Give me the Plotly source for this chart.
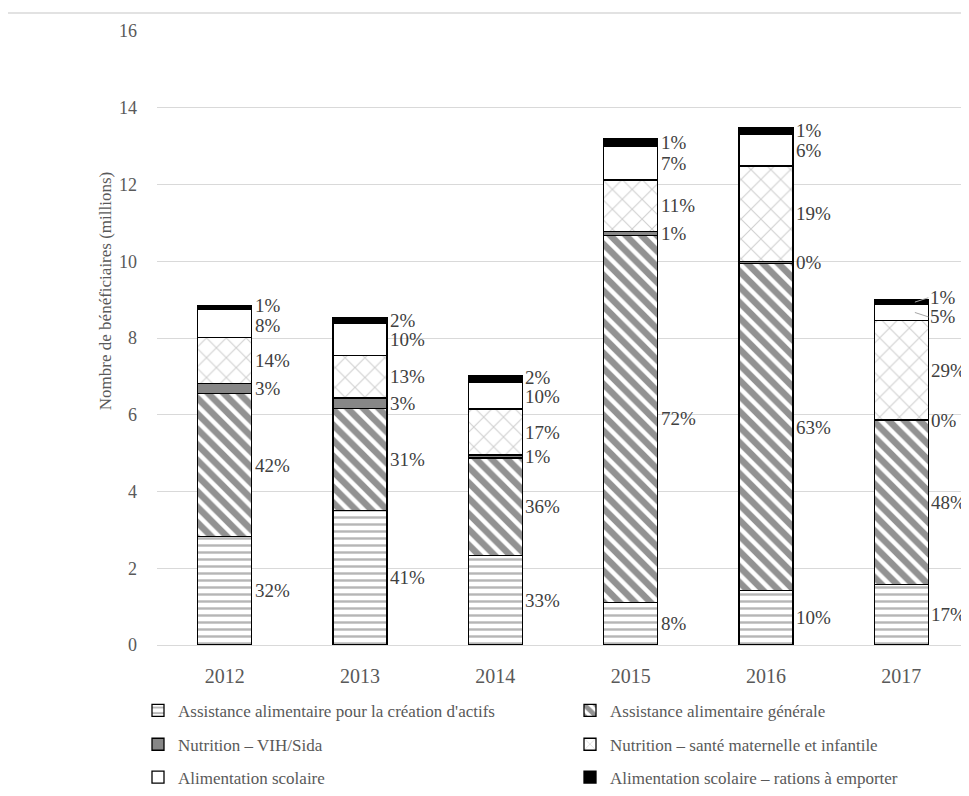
import plotly.graph_objects as go

years = ["2012", "2013", "2014", "2015", "2016", "2017"]

series_names = [
    "Assistance alimentaire pour la création d'actifs",
    "Assistance alimentaire générale",
    "Nutrition – VIH/Sida",
    "Nutrition – santé maternelle et infantile",
    "Alimentation scolaire",
    "Alimentation scolaire – rations à emporter",
]

actifs = [2.83, 3.50, 2.33, 1.11, 1.42, 1.58]
generale = [3.72, 2.66, 2.54, 9.56, 8.52, 4.27]
vih = [0.27, 0.28, 0.08, 0.10, 0.06, 0.02]
maternelle = [1.20, 1.10, 1.20, 1.35, 2.48, 2.59]
scolaire = [0.72, 0.84, 0.70, 0.88, 0.83, 0.41]
rations = [0.10, 0.16, 0.16, 0.20, 0.18, 0.13]

pct_actifs = ["32%", "41%", "33%", "8%", "10%", "17%"]
pct_generale = ["42%", "31%", "36%", "72%", "63%", "48%"]
pct_vih = ["3%", "3%", "1%", "1%", "0%", "0%"]
pct_maternelle = ["14%", "13%", "17%", "11%", "19%", "29%"]
pct_scolaire = ["8%", "10%", "10%", "7%", "6%", "5%"]
pct_rations = ["1%", "2%", "2%", "1%", "1%", "1%"]

values = [actifs, generale, vih, maternelle, scolaire, rations]
pcts = [pct_actifs, pct_generale, pct_vih, pct_maternelle, pct_scolaire, pct_rations]

FONT = "Liberation Serif"
BAR_W = 0.4
x = list(range(len(years)))

# page body has an 8px margin: figure coordinates = screen coordinates - 8
OFF = 8
W, H = 969 - OFF, 796 - OFF
PLOT_L, PLOT_T, PLOT_B = 157, 31, 647          # screen coordinates
ml, mr, mt = PLOT_L - OFF, 0, PLOT_T - OFF
mb = H - (PLOT_B - OFF)
pw = W - ml - mr
ph = H - mt - mb


def px(s):
    return (s - PLOT_L) / pw


def py(s):
    return (PLOT_B - s) / ph


styles = [
    dict(color="white", pattern=dict(shape="-", fgcolor="#6e6e6e", bgcolor="white", size=7, solidity=0.35)),
    dict(color="white", pattern=dict(shape="\\", fgcolor="#262626", bgcolor="white", size=11, solidity=0.6)),
    dict(color="#878787"),
    dict(color="white", pattern=dict(shape="x", fgcolor="#a0a0a0", bgcolor="white", size=14, solidity=0.15)),
    dict(color="white"),
    dict(color="black"),
]
legend_ids = ["legend", "legend2", "legend3", "legend4", "legend5", "legend6"]
# legend grid: (text start x, row centre y) in screen pixels
legend_cols = [178, 610]
legend_rows = [713, 747, 780]

fig = go.Figure()
for name, vals, st, lg in zip(series_names, values, styles, legend_ids):
    fig.add_trace(go.Bar(
        x=x, y=vals, name=name, width=BAR_W, showlegend=True,
        marker=dict(line=dict(color="black", width=1.3), **st),
        legend=lg,
    ))

# label positions: segment midpoints, pushed apart to avoid overlap
GAP = 0.5
annotations = []
for i in range(len(years)):
    base = 0.0
    mids = []
    for vals in values:
        mids.append(base + vals[i] / 2)
        base += vals[i]
    ys = mids[:]
    order = sorted(range(len(ys)), key=lambda k: ys[k])
    for _ in range(100):
        for a, b in zip(order[:-1], order[1:]):
            d = ys[b] - ys[a]
            if d < GAP:
                s = (GAP - d) / 2
                ys[a] -= s
                ys[b] += s
    for k in range(len(values)):
        moved = abs(ys[k] - mids[k]) > 0.08
        if moved:
            annotations.append(dict(
                x=i + BAR_W / 4, y=mids[k], xref="x", yref="y",
                ax=i + BAR_W / 2, ay=ys[k], axref="x", ayref="y",
                text=pcts[k][i], showarrow=True, arrowhead=0, arrowwidth=1,
                arrowcolor="#a6a6a6", standoff=0, xanchor="left",
                font=dict(family=FONT, size=19, color="#404040"),
            ))
        else:
            annotations.append(dict(
                x=i + BAR_W / 2, y=ys[k], xref="x", yref="y",
                text=pcts[k][i], showarrow=False, xanchor="left", xshift=1,
                font=dict(family=FONT, size=19, color="#404040"),
            ))

# y-axis title
annotations.append(dict(
    x=px(105), y=py(292), xref="paper", yref="paper",
    text="Nombre de bénéficiaires (millions)", textangle=-90, showarrow=False,
    xanchor="center", yanchor="middle",
    font=dict(family=FONT, size=17, color="#595959"),
))

legends = {}
for idx, lg in enumerate(legend_ids):
    col = idx % 2
    row = idx // 2
    legends[lg] = dict(
        orientation="h", xanchor="left", yanchor="middle",
        x=px(legend_cols[col] - 40), y=py(legend_rows[row]),
        font=dict(family=FONT, size=17, color="#595959"),
        bgcolor="rgba(0,0,0,0)", itemwidth=30, visible=True,
    )

fig.update_layout(
    width=W, height=H,
    margin=dict(l=ml, r=mr, t=mt, b=mb),
    paper_bgcolor="white", plot_bgcolor="white",
    barmode="stack", showlegend=True,
    font=dict(family=FONT, color="#595959"),
    annotations=annotations,
    shapes=[dict(type="rect", xref="paper", yref="paper",
                 x0=px(7), x1=px(1000), y0=py(830), y1=py(13),
                 line=dict(color="#d9d9d9", width=1.5), layer="below")],
    **legends,
)
fig.update_xaxes(
    tickvals=x, ticktext=years, range=[-0.5, 5.5],
    showgrid=False, showline=False, zeroline=False,
    tickfont=dict(family=FONT, size=20, color="#595959"),
    ticks="", ticklabelstandoff=17,
)
fig.update_yaxes(
    range=[0, 16], dtick=2, showgrid=True, gridcolor="#d9d9d9", gridwidth=1,
    zeroline=True, zerolinecolor="#d9d9d9", zerolinewidth=1, showline=False,
    tickfont=dict(family=FONT, size=18, color="#595959"),
    ticks="", ticklabelstandoff=19,
)

fig.write_html("out.html")
